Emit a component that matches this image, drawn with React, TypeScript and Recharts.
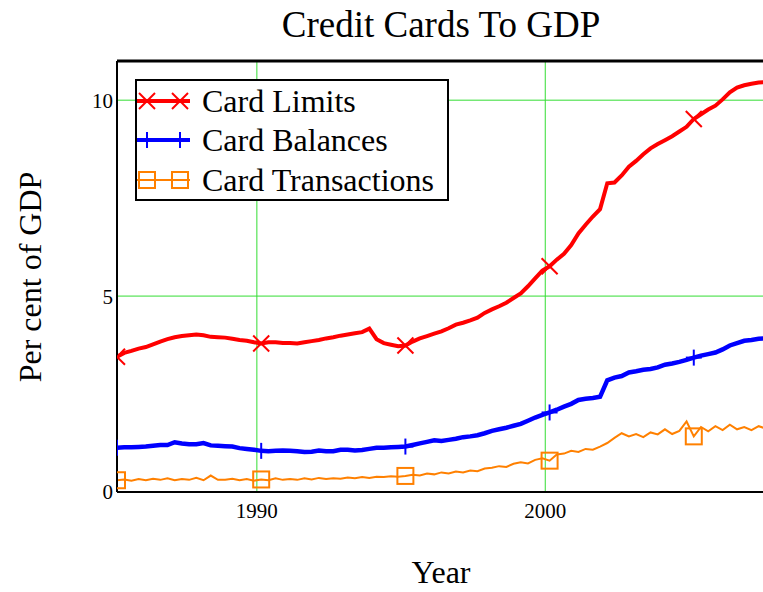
import React from 'react';
import { LineChart, Line, XAxis, YAxis, ReferenceLine } from 'recharts';

// quarterly sample points, first observation is early 1985
const years: number[] = Array.from({ length: 91 }, (_, i) => Math.round((1985.15 + i * 0.25) * 100) / 100);

const cardLimits = [
  3.45, 3.55, 3.6, 3.66, 3.7, 3.77, 3.84, 3.9, 3.95, 3.98,
  4.0, 4.02, 4.0, 3.96, 3.95, 3.94, 3.91, 3.88, 3.86, 3.82,
  3.79, 3.82, 3.82, 3.8, 3.8, 3.79, 3.82, 3.85, 3.88, 3.92,
  3.95, 3.99, 4.02, 4.05, 4.08, 4.17, 3.9, 3.8, 3.76, 3.72,
  3.74, 3.84, 3.92, 3.98, 4.04, 4.1, 4.18, 4.27, 4.32, 4.38,
  4.45, 4.57, 4.66, 4.74, 4.83, 4.95, 5.07, 5.25, 5.45, 5.65,
  5.76, 5.93, 6.08, 6.3, 6.6, 6.82, 7.03, 7.22, 7.88, 7.9,
  8.08, 8.3, 8.45, 8.62, 8.77, 8.88, 8.98, 9.08, 9.2, 9.32,
  9.52, 9.64, 9.76, 9.86, 10.02, 10.2, 10.32, 10.38, 10.42, 10.45,
  10.46,
];

const cardBalances = [
  1.13, 1.14, 1.14, 1.15, 1.16, 1.18, 1.2, 1.2, 1.27, 1.24,
  1.22, 1.22, 1.25, 1.19, 1.18, 1.17, 1.16, 1.12, 1.1, 1.08,
  1.05, 1.04, 1.05, 1.06, 1.05, 1.04, 1.02, 1.03, 1.06, 1.04,
  1.04, 1.08, 1.08, 1.06, 1.07, 1.1, 1.13, 1.13, 1.14, 1.15,
  1.16, 1.2, 1.24, 1.28, 1.32, 1.3, 1.33, 1.36, 1.4, 1.42,
  1.45, 1.5, 1.56, 1.6, 1.64, 1.69, 1.74, 1.82, 1.9, 1.97,
  2.03, 2.1, 2.18, 2.25, 2.35, 2.38, 2.4, 2.43, 2.85, 2.92,
  2.96, 3.05, 3.08, 3.12, 3.14, 3.18, 3.25, 3.28, 3.32, 3.37,
  3.43, 3.48, 3.52, 3.56, 3.64, 3.74, 3.8, 3.86, 3.88, 3.91,
  3.92,
];

const cardTransactions = [
  0.3, 0.32, 0.29, 0.33, 0.3, 0.34, 0.31, 0.35, 0.3, 0.33,
  0.31, 0.36, 0.3, 0.42, 0.31, 0.31, 0.34, 0.3, 0.33, 0.29,
  0.32, 0.3, 0.35, 0.31, 0.33, 0.31, 0.35, 0.32, 0.36, 0.33,
  0.35, 0.34, 0.37, 0.35, 0.38, 0.36, 0.39, 0.38, 0.4, 0.39,
  0.41, 0.44, 0.42, 0.47, 0.45, 0.5, 0.47, 0.52, 0.5, 0.55,
  0.53, 0.6, 0.62, 0.66, 0.64, 0.72, 0.76, 0.73, 0.82, 0.86,
  0.8, 0.96, 0.98, 1.05, 1.02, 1.1, 1.08, 1.16, 1.25, 1.38,
  1.5, 1.42, 1.48, 1.4, 1.52, 1.47, 1.6, 1.48, 1.56, 1.8,
  1.42, 1.66, 1.55, 1.68, 1.58, 1.72, 1.6, 1.66, 1.58, 1.68,
  1.62,
];

const xTicks = [1990, 2000];
const yTicks = [0, 5, 10];
const gridYears = [1990, 2000];
const gridLevels = [5, 10];

const data = years.map((year, i) => ({
  year,
  limits: cardLimits[i],
  balances: cardBalances[i],
  transactions: cardTransactions[i],
}));

const RED = '#ff0000';
const BLUE = '#0000ff';
const ORANGE = '#ff8000';
const GRID = '#33dd33';
const FONT = '"Liberation Serif", "Times New Roman", serif';
const MARK_EVERY = 20;

function Cross({ cx, cy, color }: { cx: number; cy: number; color: string }) {
  return (
    <g stroke={color} strokeWidth={2}>
      <line x1={cx - 8} y1={cy - 8} x2={cx + 8} y2={cy + 8} />
      <line x1={cx - 8} y1={cy + 8} x2={cx + 8} y2={cy - 8} />
    </g>
  );
}

function Plus({ cx, cy, color }: { cx: number; cy: number; color: string }) {
  return (
    <g stroke={color} strokeWidth={2}>
      <line x1={cx} y1={cy - 8} x2={cx} y2={cy + 8} />
      <line x1={cx - 8} y1={cy} x2={cx + 8} y2={cy} />
    </g>
  );
}

function Square({ cx, cy, color }: { cx: number; cy: number; color: string }) {
  return <rect x={cx - 8} y={cy - 8} width={16} height={16} fill="none" stroke={color} strokeWidth={2} />;
}

function makeDot(Shape: typeof Cross, color: string) {
  return (props: any) => {
    const { cx, cy, index } = props;
    if (index % MARK_EVERY !== 0 || cx == null || cy == null) return <g key={`d${index}`} />;
    return (
      <g key={`d${index}`}>
        <Shape cx={cx} cy={cy} color={color} />
      </g>
    );
  };
}

const legendItems = [
  { label: 'Card Limits', color: RED, width: 4, Shape: Cross },
  { label: 'Card Balances', color: BLUE, width: 4, Shape: Plus },
  { label: 'Card Transactions', color: ORANGE, width: 2, Shape: Square },
];

function LegendBox() {
  return (
    <div
      style={{
        position: 'absolute',
        left: 135,
        top: 79,
        width: 314,
        height: 122,
        background: '#fff',
        border: '2px solid #000',
        boxSizing: 'border-box',
        fontSize: 32,
        paddingTop: 0,
      }}
    >
      {legendItems.map(item => (
        <div key={item.label} style={{ display: 'flex', alignItems: 'center', height: 39.5 }}>
          <svg width={65} height={30} style={{ flex: 'none' }}>
            <line x1={0} y1={15} x2={53} y2={15} stroke={item.color} strokeWidth={item.width} />
            <item.Shape cx={10} cy={15} color={item.color} />
            <item.Shape cx={43} cy={15} color={item.color} />
          </svg>
          <span style={{ lineHeight: '32px', whiteSpace: 'nowrap' }}>{item.label}</span>
        </div>
      ))}
    </div>
  );
}

export default function App() {
  return (
    <div style={{ position: 'absolute', left: 0, top: 0, width: 763, height: 592, background: '#fff', fontFamily: FONT, overflow: 'hidden' }}>
      <LineChart width={763} height={592} data={data} margin={{ top: 61, right: 0, bottom: 0, left: 0 }}>
        {gridYears.map(y => (
          <ReferenceLine key={`gx${y}`} x={y} stroke={GRID} strokeWidth={1} />
        ))}
        {gridLevels.map(v => (
          <ReferenceLine key={`gy${v}`} y={v} stroke={GRID} strokeWidth={1} />
        ))}
        <XAxis
          dataKey="year"
          type="number"
          domain={[1985.15, 2007.55]}
          allowDataOverflow
          ticks={xTicks}
          height={100}
          tickLine={false}
          tickSize={6}
          tickMargin={5}
          axisLine={{ stroke: '#000', strokeWidth: 2 }}
          tick={{ fill: '#000', fontSize: 21, fontFamily: FONT }}
        />
        <YAxis
          type="number"
          domain={[0, 11]}
          allowDataOverflow
          ticks={yTicks}
          width={117}
          tickLine={false}
          tickSize={3}
          tickMargin={1}
          axisLine={{ stroke: '#000', strokeWidth: 2 }}
          tick={{ fill: '#000', fontSize: 21, fontFamily: FONT }}
        />
        <ReferenceLine y={11} stroke="#000" strokeWidth={3} ifOverflow="visible" />
        <Line
          dataKey="transactions"
          stroke={ORANGE}
          strokeWidth={2}
          dot={makeDot(Square, ORANGE)}
          activeDot={false}
          isAnimationActive={false}
        />
        <Line
          dataKey="balances"
          stroke={BLUE}
          strokeWidth={4.5}
          dot={makeDot(Plus, BLUE)}
          activeDot={false}
          isAnimationActive={false}
        />
        <Line
          dataKey="limits"
          stroke={RED}
          strokeWidth={4}
          dot={makeDot(Cross, RED)}
          activeDot={false}
          isAnimationActive={false}
        />
      </LineChart>
      <div style={{ position: 'absolute', left: 441, top: 24, transform: 'translate(-50%, -50%)', fontSize: 37, whiteSpace: 'nowrap' }}>
        Credit Cards To GDP
      </div>
      <div
        style={{
          position: 'absolute',
          left: 30,
          top: 277,
          transform: 'translate(-50%, -50%) rotate(-90deg)',
          fontSize: 32,
          whiteSpace: 'nowrap',
        }}
      >
        Per cent of GDP
      </div>
      <div style={{ position: 'absolute', left: 441, top: 572, transform: 'translate(-50%, -50%)', fontSize: 32, whiteSpace: 'nowrap' }}>
        Year
      </div>
      <LegendBox />
    </div>
  );
}
